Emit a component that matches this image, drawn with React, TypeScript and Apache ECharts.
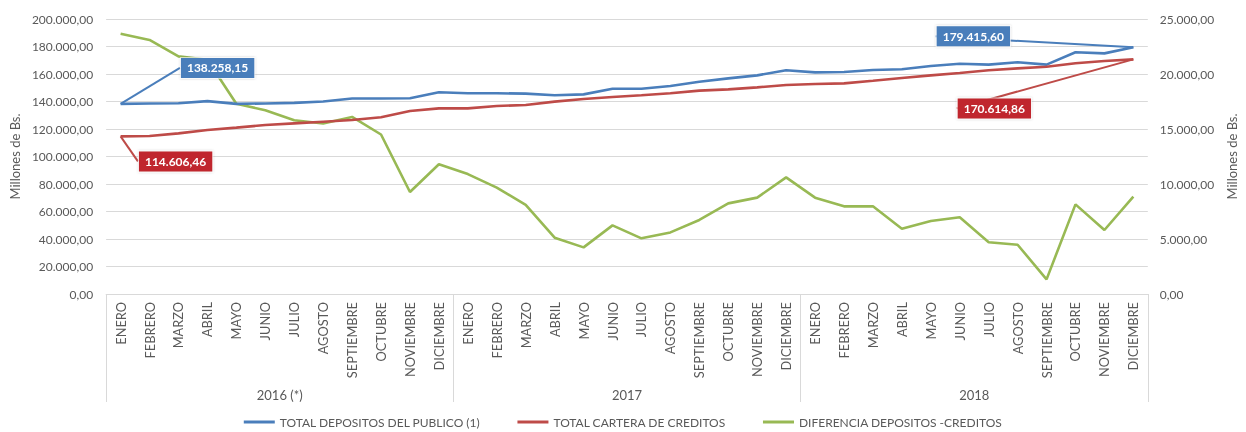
import React, { useEffect, useRef } from "react";
import * as echarts from "echarts";

const years = ["2016 (*)", "2017", "2018"];
const months = ["ENERO", "FEBRERO", "MARZO", "ABRIL", "MAYO", "JUNIO", "JULIO", "AGOSTO", "SEPTIEMBRE", "OCTUBRE", "NOVIEMBRE", "DICIEMBRE"];

const depositos = [
  138258.15, 138500, 138700, 140300, 138300, 138600, 139000, 140000, 142200, 142200, 142400, 146700,
  146000, 146000, 145700, 144500, 145200, 149300, 149300, 151300, 154400, 156800, 159000, 162700,
  161200, 161500, 162900, 163400, 165800, 167500, 166800, 168500, 166800, 175800, 175000, 179415.6,
];
const cartera = [
  114606.46, 114900, 116800, 119300, 121000, 122900, 124100, 125300, 126500, 128500, 133100, 135000,
  135000, 136700, 137500, 139900, 141800, 143300, 144500, 146000, 147900, 148800, 150300, 152000,
  152700, 153200, 155100, 157100, 159000, 160700, 162700, 164100, 165300, 167800, 169500, 170614.86,
];
const diferencia = [
  23650, 23100, 21600, 21300, 17300, 16700, 15800, 15500, 16100, 14500, 9270, 11800,
  10900, 9670, 8100, 5120, 4240, 6240, 5060, 5600, 6730, 8240, 8760, 10600,
  8760, 7970, 7970, 5940, 6640, 6970, 4700, 4480, 1330, 8150, 5820, 8850,
];
const seriesNames = ["TOTAL DEPOSITOS DEL PUBLICO (1)", "TOTAL CARTERA DE CREDITOS", "DIFERENCIA DEPOSITOS -CREDITOS"];
const axisName = "Millones de Bs.";

const BLUE = "#4a7ebb";
const RED = "#be4b48";
const GREEN = "#98b954";
const TXT = "#595959";
const GRID = "#d9d9d9";
const FONT = "Lato";

const fmt = (v: number) => {
  const [i, d] = v.toFixed(2).split(".");
  return i.replace(/\B(?=(\d{3})+(?!\d))/g, ".") + "," + d;
};

// callout offsets (label centre relative to the point), per series index and data index
const calloutOffsets: Record<number, Record<number, [number, number]>> = {
  0: { 0: [97, -36], 35: [-160, -11] },
  1: { 0: [55, 25], 35: [-139, 49] },
};

export default function App() {
  const ref = useRef<HTMLDivElement>(null);
  useEffect(() => {
    if (!ref.current) return;
    const chart = echarts.init(ref.current, undefined, { renderer: "svg" });
    const categories = years.flatMap(() => months);
    const n = categories.length;

    const withCallouts = (vals: number[], color: string) =>
      vals.map((v, i) =>
        i === 0 || i === n - 1
          ? {
              value: v,
              label: {
                show: true,
                position: "inside",
                formatter: (p: any) => fmt(p.value),
                backgroundColor: color,
                color: "#fff",
                fontWeight: "bold",
                fontSize: 12,
                fontFamily: FONT,
                padding: [4, 6, 4, 6],
                borderColor: "rgba(255,255,255,0.6)",
                borderWidth: 1,
                shadowColor: "rgba(0,0,0,0.25)",
                shadowBlur: 2,
              },
            }
          : v
      );

    const lineSeries = (name: string, data: any[], color: string, yAxisIndex: number) => ({
      name,
      type: "line",
      data,
      yAxisIndex,
      xAxisIndex: 0,
      symbol: "circle",
      symbolSize: 0,
      showSymbol: true,
      lineStyle: { color, width: 2.6 },
      itemStyle: { color },
      labelLine: { show: true, lineStyle: { color, width: 2 } },
      labelLayout: (params: any) => {
        const o = calloutOffsets[params.seriesIndex]?.[params.dataIndex];
        return o ? { dx: o[0], dy: o[1] } : {};
      },
      z: yAxisIndex === 1 ? 2 : 3,
    });

    chart.setOption({
      animation: false,
      textStyle: { fontFamily: FONT },
      grid: { left: 106, right: 88, top: 19, bottom: 138, containLabel: false },
      legend: {
        top: 411,
        left: "center",
        icon: "rect",
        itemWidth: 31,
        itemHeight: 3,
        itemGap: 37,
        textStyle: { color: TXT, fontSize: 12, fontFamily: FONT },
        data: seriesNames,
      },
      xAxis: [
        {
          type: "category",
          data: categories,
          boundaryGap: true,
          axisLine: { show: true, lineStyle: { color: GRID, width: 1 } },
          axisTick: { show: false },
          axisLabel: { rotate: 90, color: TXT, fontSize: 12.8, fontFamily: FONT, margin: 8, interval: 0 },
        },
        {
          type: "category",
          data: years,
          position: "bottom",
          boundaryGap: true,
          axisLine: { show: false },
          axisTick: { show: true, length: 108, lineStyle: { color: GRID, width: 1 } },
          axisLabel: { color: TXT, fontSize: 13, fontFamily: FONT, margin: 94 },
        },
      ],
      yAxis: [
        {
          type: "value",
          min: 0,
          max: 200000,
          interval: 20000,
          name: axisName,
          nameLocation: "middle",
          nameRotate: 90,
          nameGap: 84,
          nameTextStyle: { color: TXT, fontSize: 13, fontFamily: FONT },
          axisLine: { show: false },
          axisTick: { show: false },
          splitLine: { lineStyle: { color: GRID, width: 1 } },
          axisLabel: { color: TXT, fontSize: 12, fontFamily: FONT, margin: 13, formatter: (v: number) => fmt(v) },
        },
        {
          type: "value",
          min: 0,
          max: 25000,
          interval: 5000,
          position: "right",
          name: axisName,
          nameLocation: "middle",
          nameRotate: 90,
          nameGap: 74,
          nameTextStyle: { color: TXT, fontSize: 13, fontFamily: FONT },
          axisLine: { show: false },
          axisTick: { show: false },
          splitLine: { show: false },
          axisLabel: { color: TXT, fontSize: 12, fontFamily: FONT, margin: 12, formatter: (v: number) => fmt(v) },
        },
      ],
      series: [
        lineSeries(seriesNames[0], withCallouts(depositos, BLUE), BLUE, 0),
        lineSeries(seriesNames[1], withCallouts(cartera, "#c0282d"), RED, 0),
        lineSeries(seriesNames[2], diferencia, GREEN, 1),
      ],
    });
    return () => chart.dispose();
  }, []);
  return <div ref={ref} style={{ position: "fixed", left: 0, top: 0, width: 1246, height: 432 }} />;
}
